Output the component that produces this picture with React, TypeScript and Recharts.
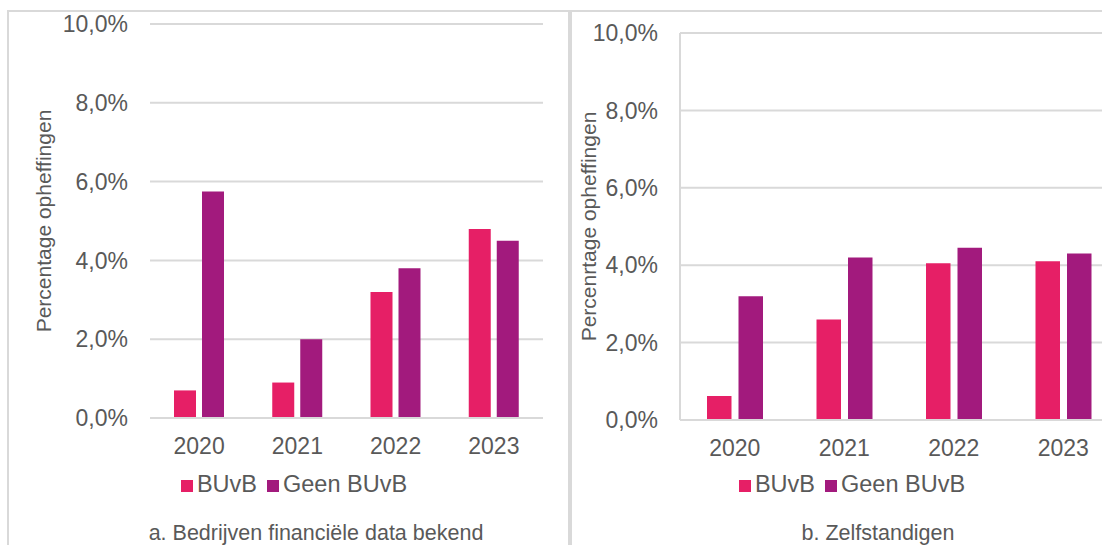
import React from 'react';
import { BarChart, Bar, XAxis, YAxis, CartesianGrid, Legend } from 'recharts';

const years = ['2020', '2021', '2022', '2023'];
const buvbBedrijven = [0.7, 0.9, 3.2, 4.8];
const geenBuvbBedrijven = [5.75, 2.0, 3.8, 4.5];
const buvbZelfstandigen = [0.62, 2.6, 4.05, 4.1];
const geenBuvbZelfstandigen = [3.2, 4.2, 4.45, 4.3];
const yTicks = [0, 2, 4, 6, 8, 10];

const PINK = '#E61F66';
const PURPLE = '#A21A7D';
const TEXT = '#595959';
const GRID = '#D9D9D9';
const FONT = '"Liberation Sans", Arial, sans-serif';

const bedrijvenData = years.map((year, i) => ({
  year,
  buvb: buvbBedrijven[i],
  geen: geenBuvbBedrijven[i],
}));

const zelfstandigenData = years.map((year, i) => ({
  year,
  buvb: buvbZelfstandigen[i],
  geen: geenBuvbZelfstandigen[i],
}));

const pct = (v: number) => `${v.toFixed(1).replace('.', ',')}%`;

function axisTitle(text: string, x: number) {
  return (props: any) => {
    const vb = props.viewBox;
    const cy = vb.y + vb.height / 2;
    return (
      <text
        x={x}
        y={cy}
        transform={`rotate(-90, ${x}, ${cy})`}
        textAnchor="middle"
        dominantBaseline="central"
        fill={TEXT}
        fontSize={21}
        fontFamily={FONT}
      >
        {text}
      </text>
    );
  };
}

const legendText = (value: string) => <span style={{ color: TEXT }}>{value}</span>;

interface PanelProps {
  data: { year: string; buvb: number; geen: number }[];
  width: number;
  yAxisWidth: number;
  marginTop: number;
  marginRight: number;
  marginBottom: number;
  barSize: number;
  barGap: number;
  yTitle: string;
  yTitleX: number;
  showYAxisLine: boolean;
  legendLeft: number;
}

function Panel(p: PanelProps) {
  return (
    <BarChart
      width={p.width}
      height={545}
      data={p.data}
      margin={{ top: p.marginTop, right: p.marginRight, bottom: p.marginBottom, left: 0 }}
      barSize={p.barSize}
      barGap={p.barGap}
      style={{ fontFamily: FONT }}
    >
      <CartesianGrid vertical={false} stroke={GRID} strokeWidth={2} />
      <XAxis
        dataKey="year"
        height={30}
        axisLine={{ stroke: GRID, strokeWidth: 2 }}
        tickLine={false}
        tickSize={0}
        tickMargin={20}
        tick={{ fill: TEXT, fontSize: 23 }}
      />
      <YAxis
        width={p.yAxisWidth}
        domain={[0, 10]}
        ticks={yTicks}
        tickFormatter={pct}
        axisLine={p.showYAxisLine ? { stroke: GRID, strokeWidth: 2 } : false}
        tickLine={false}
        tickSize={0}
        tickMargin={22}
        tick={{ fill: TEXT, fontSize: 23 }}
        label={axisTitle(p.yTitle, p.yTitleX)}
      />
      <Legend
        layout="horizontal"
        verticalAlign="middle"
        align="center"
        iconType="square"
        iconSize={12}
        formatter={legendText}
        wrapperStyle={{ top: 471, left: p.legendLeft, width: p.width, fontSize: 23.5, fontFamily: FONT }}
      />
      <Bar dataKey="buvb" name="BUvB" fill={PINK} isAnimationActive={false} />
      <Bar dataKey="geen" name="Geen BUvB" fill={PURPLE} isAnimationActive={false} />
    </BarChart>
  );
}

export default function App() {
  return (
    <div
      style={{
        position: 'absolute',
        left: 0,
        top: 0,
        width: 1102,
        height: 545,
        overflow: 'hidden',
        background: '#ffffff',
        fontFamily: FONT,
      }}
    >
      <div
        style={{
          position: 'absolute',
          left: 7,
          top: 10,
          width: 559,
          height: 600,
          border: `2px solid ${GRID}`,
        }}
      />
      <div
        style={{
          position: 'absolute',
          left: 570,
          top: 10,
          width: 600,
          height: 600,
          border: `2px solid ${GRID}`,
        }}
      />
      <div style={{ position: 'absolute', left: 0, top: 0 }}>
        <Panel
          data={bedrijvenData}
          width={570}
          yAxisWidth={150}
          marginTop={24}
          marginRight={27}
          marginBottom={97}
          barSize={22}
          barGap={6}
          yTitle="Percentage opheffingen"
          yTitleX={43}
          showYAxisLine={false}
          legendLeft={14}
        />
      </div>
      <div style={{ position: 'absolute', left: 560, top: 0 }}>
        <Panel
          data={zelfstandigenData}
          width={580}
          yAxisWidth={120}
          marginTop={33}
          marginRight={22}
          marginBottom={95}
          barSize={24.5}
          barGap={7}
          yTitle="Percenrtage opheffingen"
          yTitleX={28.5}
          showYAxisLine={true}
          legendLeft={7}
        />
      </div>
      <div
        style={{
          position: 'absolute',
          left: 116,
          width: 400,
          top: 521,
          textAlign: 'center',
          fontSize: 21.5,
          lineHeight: '24px',
          color: TEXT,
          whiteSpace: 'nowrap',
        }}
      >
        a. Bedrijven financiële data bekend
      </div>
      <div
        style={{
          position: 'absolute',
          left: 678,
          width: 400,
          top: 521,
          textAlign: 'center',
          fontSize: 21.5,
          lineHeight: '24px',
          color: TEXT,
          whiteSpace: 'nowrap',
        }}
      >
        b. Zelfstandigen
      </div>
    </div>
  );
}
